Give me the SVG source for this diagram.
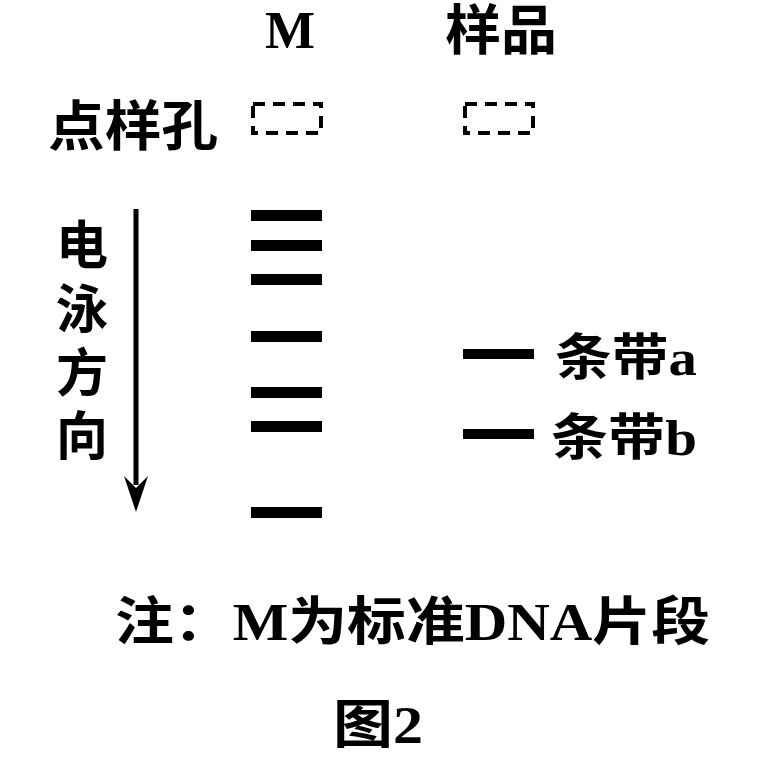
<svg xmlns="http://www.w3.org/2000/svg" width="758" height="758" viewBox="0 0 758 758">
<style>
text{font-family:"Liberation Serif","Noto Sans CJK SC",serif;font-weight:bold;fill:#000}
.band{fill:#000}
.well{fill:none;stroke:#000;stroke-width:4;stroke-dasharray:12,8}
</style>
<rect width="758" height="758" fill="#fff"/>
<g id="labels">
<text x="265" y="48" font-size="52" textLength="50" lengthAdjust="spacingAndGlyphs">M</text>
<text x="445" y="50" font-size="54" textLength="112" lengthAdjust="spacingAndGlyphs">样品</text>
<text x="48" y="146" font-size="54" textLength="170" lengthAdjust="spacingAndGlyphs">点样孔</text>
<text x="82" y="264" font-size="52" text-anchor="middle">电</text>
<text x="82" y="328" font-size="52" text-anchor="middle">泳</text>
<text x="82" y="392" font-size="52" text-anchor="middle">方</text>
<text x="82" y="455" font-size="52" text-anchor="middle">向</text>
<text x="555" y="375" font-size="50" textLength="142" lengthAdjust="spacingAndGlyphs">条带a</text>
<text x="551" y="455" font-size="50" textLength="146" lengthAdjust="spacingAndGlyphs">条带b</text>
<text x="115" y="640" font-size="52" textLength="595" lengthAdjust="spacingAndGlyphs">注：M为标准DNA片段</text>
<text x="333" y="743" font-size="52" textLength="90" lengthAdjust="spacingAndGlyphs">图2</text>
</g>
<g id="wells">
<rect class="well" x="253" y="104" width="68" height="29"/>
<rect class="well" x="465" y="104" width="68" height="29"/>
</g>
<g id="arrow">
<line x1="136" y1="209" x2="136" y2="485" stroke="#000" stroke-width="5"/>
<polygon points="124,476 136,512 148,476 136,488" fill="#000"/>
</g>
<g id="bands">
<rect class="band" x="251" y="210" width="71" height="11"/>
<rect class="band" x="251" y="240" width="71" height="11"/>
<rect class="band" x="251" y="274" width="71" height="11"/>
<rect class="band" x="251" y="331" width="71" height="11"/>
<rect class="band" x="251" y="387" width="71" height="11"/>
<rect class="band" x="251" y="421" width="71" height="11"/>
<rect class="band" x="251" y="507" width="71" height="11"/>
<rect class="band" x="463" y="349" width="71" height="10"/>
<rect class="band" x="463" y="429" width="71" height="10"/>
</g>
</svg>
